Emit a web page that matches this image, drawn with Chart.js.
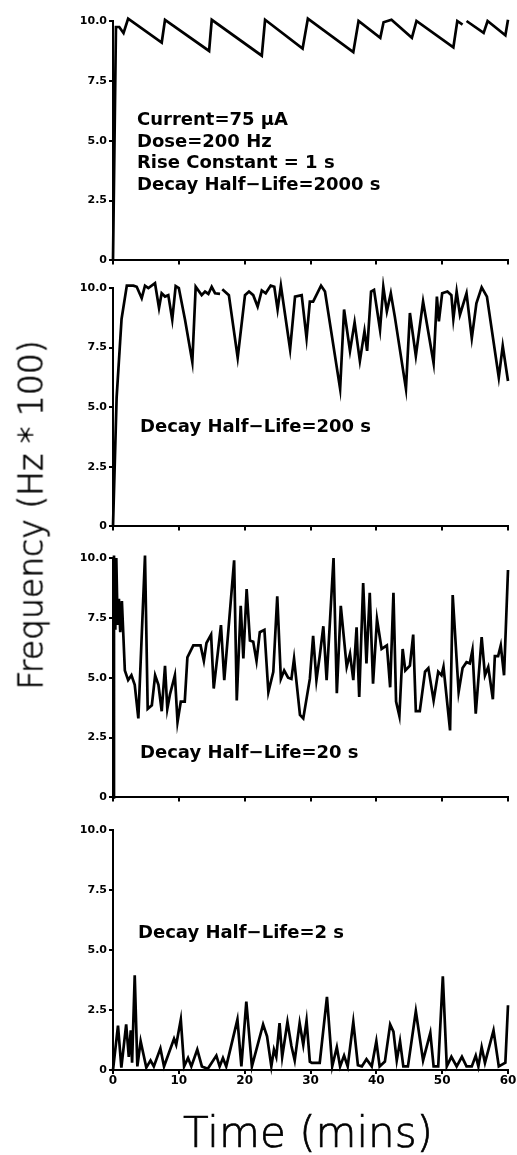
<!DOCTYPE html>
<html>
<head>
<meta charset="utf-8">
<script src="https://cdn.jsdelivr.net/npm/chart.js@4.4.0/dist/chart.umd.min.js"></script>
<style>
  body { margin: 0; background: #fff; }
  #wrap { position: relative; width: 517px; height: 1155px; overflow: hidden; }
  canvas { position: absolute; left: 0; }
  .title {
    position: absolute; white-space: nowrap; line-height: 1;
    font-family: "DejaVu Sans", sans-serif; font-weight: 200; color: #000;
    -webkit-text-stroke: 0.7px #000;
  }
  #ytitle { left: 31px; top: 515px; font-size: 33px; transform: translate(-50%, -50%) rotate(-90deg); }
  #xtitle { left: 308px; top: 1133px; font-size: 42px; transform: translate(-50%, -50%); }
</style>
</head>
<body>
<div id="wrap">
  <canvas id="p1" width="517" height="260" style="top:9px"></canvas>
  <canvas id="p2" width="517" height="259" style="top:276px"></canvas>
  <canvas id="p3" width="517" height="260" style="top:546px"></canvas>
  <canvas id="p4" width="517" height="337" style="top:818px"></canvas>
  <div class="title" id="ytitle">Frequency (Hz * 100)</div>
  <div class="title" id="xtitle">Time (mins)</div>
</div>
<script>
// time (mins) and frequency (Hz * 100)
var t2000 = [0, 0.45, 0.95, 1.6, 2.3, 7.4, 7.9, 14.6, 15.0, 22.6, 23.1, 28.8, 29.6, 36.5, 37.3, 40.6, 41.1, 42.3, 45.4, 46.1, 51.7, 52.3, 53.1, 53.4, 53.7, 56.3, 56.9, 59.6, 60];
var f2000 = [0, 9.75, 9.75, 9.5, 10.1, 9.1, 10.05, 8.75, 10.05, 8.55, 10.05, 8.85, 10.1, 8.7, 10.0, 9.3, 9.95, 10.05, 9.3, 10.0, 8.9, 10.0, 9.85, null, 10.0, 9.5, 10.0, 9.4, 10.05];

var t200 = [0, 0.55, 1.3, 2.1, 3.1, 3.6, 4.36, 4.86, 5.37, 6.38, 6.99, 7.39, 7.9, 8.4, 9.0, 9.52, 10.0, 10.94, 12.05, 12.56,
  13.47, 13.98, 14.49, 14.99, 15.5, 16.26, 16.4, 16.6, 17.6, 18.94, 20.05, 20.66, 21.3, 21.97, 22.6, 23.2, 23.95, 24.5, 25.0, 25.5,
  26.9, 27.65, 28.66, 29.4, 29.9, 30.4, 31.6, 32.2, 34.5, 35.1, 36.0, 36.7, 37.5, 38.2, 38.6, 39.2, 39.65, 40.56, 41.06, 41.6,
  42.2, 42.8, 44.5, 45.1, 46.0, 47.1, 48.7, 49.2, 49.5, 50.0, 50.8, 51.4, 51.7, 52.2, 52.7, 53.7, 54.5, 55.2, 56.0, 56.8,
  58.6, 59.2, 60];
var f200 = [0, 5.4, 8.7, 10.1, 10.1, 10.05, 9.57, 10.1, 10.0, 10.2, 9.16, 9.78, 9.64, 9.7, 8.67, 10.08, 10.0, 8.67, 6.9, 10.05,
  9.7, 9.85, 9.75, 10.05, 9.78, 9.75, null, 9.95, 9.7, 7.08, 9.7, 9.85, 9.7, 9.22, 9.9, 9.78, 10.1, 10.05, 9.1, 10.1,
  7.43, 9.64, 9.7, 7.9, 9.43, 9.43, 10.1, 9.85, 5.77, 9.1, 7.36, 8.56, 6.94, 8.19, 7.36, 9.85, 9.92, 8.25, 10.05, 9.02,
  9.78, 8.81, 5.77, 8.95, 7.15, 9.43, 6.85, 9.64, 8.6, 9.78, 9.85, 9.7, 8.7, 9.85, 8.88, 9.78, 7.9, 9.36, 10.03, 9.64,
  6.25, 7.57, 6.1];

var t20 = [0, 0.15, 0.35, 0.5, 0.7, 0.9, 1.1, 1.35, 1.8, 2.3, 2.8, 3.3, 3.85, 4.86, 5.27, 5.9, 6.4, 6.9, 7.4, 7.9,
  8.25, 8.65, 9.4, 9.8, 10.3, 10.9, 11.3, 12.2, 13.3, 13.8, 14.2, 14.9, 15.3, 16.4, 16.9, 18.4, 18.8, 19.4, 19.8, 20.3,
  20.8, 21.3, 21.8, 22.3, 23.0, 23.6, 24.35, 24.95, 25.5, 26.0, 26.6, 27.1, 27.5, 28.4, 28.9, 29.9, 30.4, 30.9, 31.4, 31.95,
  32.45, 33.5, 34.0, 34.6, 35.5, 36.0, 36.5, 37.0, 37.4, 38.0, 38.5, 39.0, 39.5, 40.1, 40.8, 41.6, 42.1, 42.6, 43.0, 43.5,
  44.0, 44.4, 45.1, 45.6, 46.0, 46.6, 47.4, 47.9, 48.7, 49.4, 49.9, 50.2, 51.2, 51.6, 52.5, 53.1, 53.7, 54.2, 54.6, 55.1,
  56.0, 56.5, 57.0, 57.7, 58.0, 58.5, 58.9, 59.4, 60];
var f20 = [0, 10.1, 7.0, 10.0, 7.2, 8.3, 6.9, 8.2, 5.3, 4.9, 5.1, 4.7, 3.3, 10.1, 3.7, 3.85, 5.1, 4.7, 3.6, 5.5,
  3.7, 4.3, 5.1, 3.15, 4.0, 4.0, 5.85, 6.35, 6.35, 5.7, 6.45, 6.8, 4.55, 7.2, 4.9, 9.9, 4.05, 8.0, 5.8, 8.7,
  6.55, 6.5, 5.7, 6.9, 7.0, 4.4, 5.25, 8.4, 4.95, 5.3, 5.0, 4.95, 5.8, 3.45, 3.3, 4.95, 6.75, 4.9, 5.9, 7.15,
  4.9, 10.0, 4.35, 8.0, 5.45, 6.0, 4.9, 7.1, 4.2, 8.95, 5.6, 8.55, 4.75, 7.45, 6.2, 6.35, 4.6, 8.55, 4.0, 3.4,
  6.2, 5.3, 5.5, 6.8, 3.6, 3.6, 5.25, 5.4, 4.05, 5.25, 5.1, 5.45, 2.8, 8.45, 4.4, 5.4, 5.65, 5.6, 6.15, 3.5,
  6.7, 5.1, 5.45, 4.1, 5.9, 5.9, 6.35, 5.1, 9.5];

var t2 = [0, 0.76, 1.27, 2.0, 2.4, 2.7, 2.9, 3.3, 3.7, 4.2, 4.55, 5.06, 5.7, 6.2, 7.2, 7.75, 9.27, 9.6, 10.3, 10.8,
  11.4, 11.9, 12.8, 13.5, 14.4, 15.7, 16.2, 16.7, 17.2, 18.9, 19.5, 20.25, 21.1, 22.8, 23.4, 24.05, 24.45, 24.8, 25.3, 25.7,
  26.5, 27.1, 27.6, 28.35, 28.9, 29.4, 29.9, 30.2, 31.4, 32.5, 33.3, 34.0, 34.5, 35.1, 35.65, 36.5, 37.2, 37.8, 38.5, 39.3,
  40.0, 40.5, 41.3, 42.1, 42.6, 43.1, 43.6, 44.1, 44.8, 46.0, 47.1, 48.2, 48.7, 49.4, 50.1, 50.7, 51.4, 52.2, 53.0, 53.7,
  54.5, 55.1, 55.5, 56.0, 56.5, 57.8, 58.6, 59.6, 60];
var f2 = [0, 1.85, 0.1, 1.9, 0.55, 1.65, 0.3, 3.95, 0.15, 1.2, 0.75, 0.1, 0.4, 0.15, 0.9, 0.15, 1.3, 1.05, 2.1, 0.15,
  0.5, 0.15, 0.85, 0.15, 0.05, 0.6, 0.15, 0.5, 0.15, 2.1, 0.15, 2.85, 0.15, 1.9, 1.4, 0.15, 0.85, 0.55, 1.95, 0.55,
  2.0, 1.0, 0.4, 1.95, 1.05, 2.05, 0.35, 0.3, 0.3, 3.05, 0.15, 0.95, 0.15, 0.6, 0.15, 2.0, 0.2, 0.15, 0.45, 0.15,
  1.2, 0.15, 0.35, 1.9, 1.6, 0.4, 1.2, 0.15, 0.15, 2.45, 0.4, 1.55, 0.15, 0.15, 3.9, 0.15, 0.55, 0.15, 0.55, 0.15,
  0.15, 0.6, 0.15, 0.95, 0.3, 1.65, 0.15, 0.3, 2.7];

var yTicks = [0, 2.5, 5, 7.5, 10];
var xTicks = [0, 10, 20, 30, 40, 50, 60];

var FONT = '"DejaVu Sans", sans-serif';

// writes the text notes inside a panel
var notePlugin = {
  id: 'note',
  afterDraw: function(chart, args, opts) {
    if (!opts.lines) return;
    var ctx = chart.ctx;
    ctx.save();
    ctx.font = 'bold 18px ' + FONT;
    ctx.fillStyle = '#000';
    ctx.textBaseline = 'alphabetic';
    opts.lines.forEach(function(line, i) {
      ctx.fillText(line, chart.chartArea.left + opts.x, chart.chartArea.top + opts.y + i * 21.7);
    });
    ctx.restore();
  }
};

function makePanel(id, t, f, note, last) {
  var pts = t.map(function(x, i) { return {x: x, y: f[i]}; });
  return new Chart(document.getElementById(id), {
    type: 'line',
    data: {
      datasets: [{
        data: pts,
        borderColor: '#000',
        borderWidth: 2.7,
        pointRadius: 0,
        tension: 0,
        spanGaps: false,
        clip: false
      }]
    },
    options: {
      responsive: false,
      animation: false,
      devicePixelRatio: 1,
      layout: { padding: { left: 0, right: 9, top: 12, bottom: 0 } },
      plugins: { legend: { display: false }, tooltip: { enabled: false }, note: note },
      scales: {
        x: {
          type: 'linear',
          min: 0, max: 60,
          afterBuildTicks: function(scale) { scale.ticks = xTicks.map(function(v) { return {value: v}; }); },
          border: { display: true, color: '#000', width: 2 },
          grid: { display: true, drawOnChartArea: false, drawTicks: true, tickLength: 4, color: '#000', lineWidth: 2 },
          ticks: {
            display: last,
            color: '#000',
            padding: 0,
            maxRotation: 0,
            autoSkip: false,
            font: { family: FONT, weight: 'bold', size: 12 }
          },
          afterFit: function(scale) { scale.height = last ? 85 : 6; }
        },
        y: {
          type: 'linear',
          min: 0, max: 10,
          afterBuildTicks: function(scale) { scale.ticks = yTicks.map(function(v) { return {value: v}; }); },
          border: { display: true, color: '#000', width: 2 },
          grid: { display: true, drawOnChartArea: false, drawTicks: true, tickLength: 4, color: '#000', lineWidth: 2 },
          ticks: {
            color: '#000',
            padding: 2,
            font: { family: FONT, weight: 'bold', size: 11 },
            callback: function(v) { return v === 0 ? '0' : v.toFixed(1); }
          },
          afterFit: function(scale) { scale.width = 113; }
        }
      }
    },
    plugins: [notePlugin]
  });
}

makePanel('p1', t2000, f2000, {
  x: 24, y: 104,
  lines: ['Current=75 µA', 'Dose=200 Hz', 'Rise Constant = 1 s', 'Decay Half\u2212Life=2000 s']
}, false);
makePanel('p2', t200, f200, { x: 27, y: 144, lines: ['Decay Half\u2212Life=200 s'] }, false);
makePanel('p3', t20, f20, { x: 27, y: 200, lines: ['Decay Half\u2212Life=20 s'] }, false);
makePanel('p4', t2, f2, { x: 25, y: 108, lines: ['Decay Half\u2212Life=2 s'] }, true);
</script>
</body>
</html>
